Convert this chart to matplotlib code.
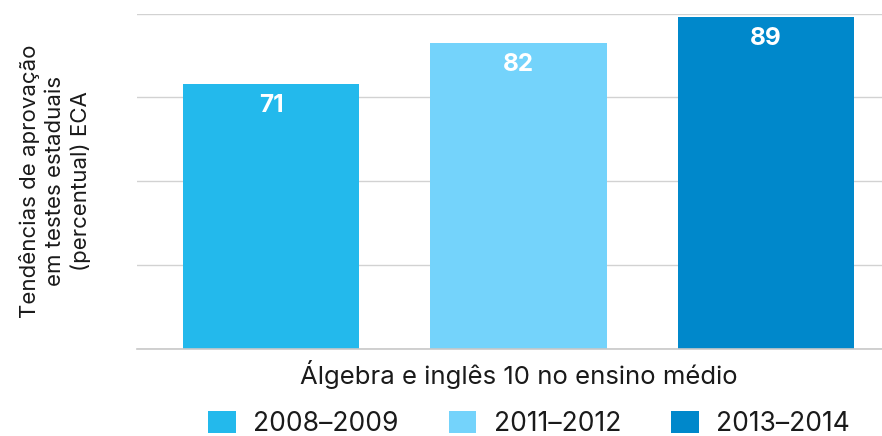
import matplotlib
matplotlib.use("Agg")
import matplotlib.pyplot as plt
from matplotlib.patches import Patch

plt.rcParams['font.family'] = ['Inter', 'DejaVu Sans']

category = "Álgebra e inglês 10 no ensino médio"
series = ["2008–2009", "2011–2012", "2013–2014"]
values = [71, 82, 89]
colors = ["#23B9EC", "#74D3FB", "#0088CB"]
ylabel = "Tendências de aprovação\nem testes estaduais\n(percentual) ECA"

fig = plt.figure(figsize=(8.82, 4.36), dpi=100)
ax = fig.add_axes([137/882, 1-349/436, 1-137/882, (349-13.5)/436])

spacing = 1.0
width = 0.713
offsets = [(i - (len(series)-1)/2) * spacing for i in range(len(series))]
for off, v, c, s in zip(offsets, values, colors, series):
    ax.bar(off, v, width=width, color=c, zorder=2, label=s)
    ax.annotate(str(v), (off, v), xytext=(0, -15.5), textcoords='offset points',
                ha='center', va='center', color='white', fontsize=17.5,
                fontweight='bold')

ax.set_ylim(0, 90)
ax.set_xlim(-1.5425, 1.47)
ax.set_yticks([0, 22.5, 45, 67.5, 90])
ax.yaxis.grid(True, color='#d2d2d2', linewidth=1.0, zorder=0)
ax.set_axisbelow(True)
ax.tick_params(axis='y', length=0, labelleft=False)
ax.set_xticks([0])
ax.set_xticklabels([category], fontsize=18.5, color='#1a1a1a')
ax.tick_params(axis='x', length=0, pad=8)
for sp in ['top', 'right', 'left']:
    ax.spines[sp].set_visible(False)
ax.spines['bottom'].set_color('#c8c8c8')
ax.spines['bottom'].set_linewidth(1.2)

fig.text(55/882, 1-181/436, ylabel, rotation=90, ha='center', va='center',
         fontsize=16, color='#1a1a1a', linespacing=1.33, multialignment='center')

handles = [Patch(facecolor=c, edgecolor='none') for c in colors]
fig.legend(handles, series, loc='center', bbox_to_anchor=(529/882, 1-424/436),
           ncol=3, frameon=False, fontsize=19, handlelength=1.05, handleheight=0.9,
           handletextpad=0.65, columnspacing=1.9, labelcolor='#1a1a1a')

fig.savefig("out.png", dpi=100)
